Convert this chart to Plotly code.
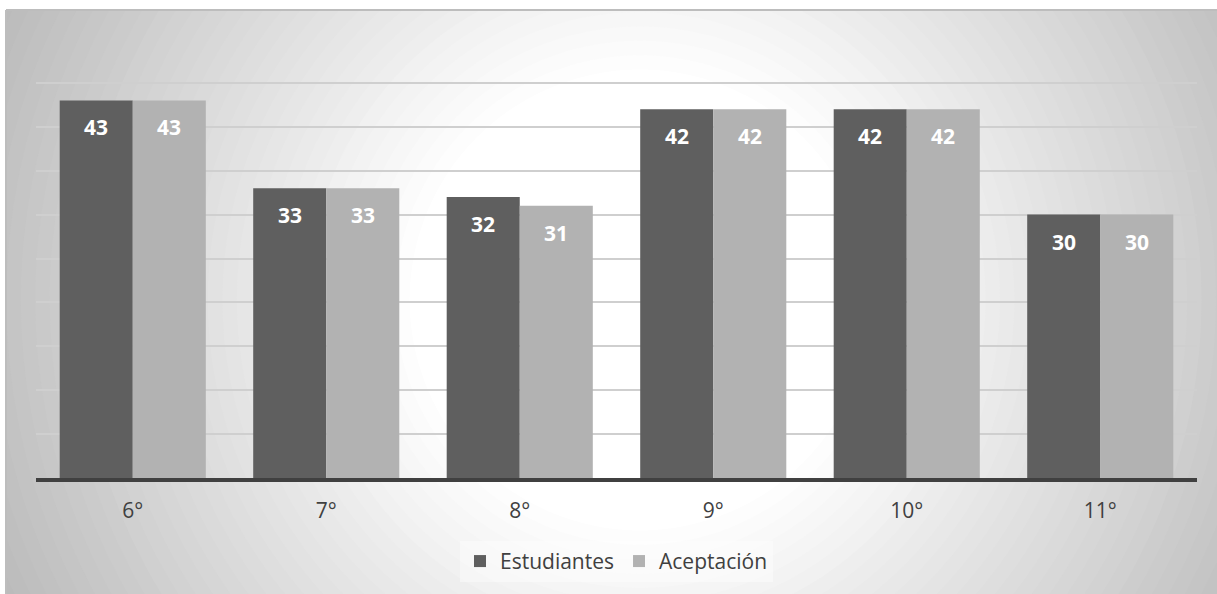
import plotly.graph_objects as go

# ---- data ----
grados = ["6°", "7°", "8°", "9°", "10°", "11°"]
estudiantes = [43, 33, 32, 42, 42, 30]
aceptacion = [43, 33, 31, 42, 42, 30]
serie_nombres = ["Estudiantes", "Aceptación"]

# ---- geometry / style ----
W, H = 1217, 594
L, R, T, B = 36, 1197, 39, 478
COL_DARK = "#5f5f5f"
COL_LIGHT = "#b2b2b2"
FONT = "Open Sans"
BARGAP = 0.245


def px_x(px):
    return (px - L) / (R - L)


def px_y(py):
    return (B - py) / (B - T)


fig = go.Figure()
for name, vals, col in zip(serie_nombres, [estudiantes, aceptacion], [COL_DARK, COL_LIGHT]):
    fig.add_trace(go.Bar(
        x=grados, y=vals, name=name,
        marker=dict(color=col, line=dict(width=0)),
        hoverinfo="x+y+name",
    ))

# data labels (white, bold, inside near top)
cat_w = (R - L) / len(grados)
bar_w = cat_w * (1 - BARGAP) / 2
annotations = []
for i, vals in enumerate([estudiantes, aceptacion]):
    for g, v in zip(grados, vals):
        annotations.append(dict(
            x=g, y=v, xref="x", yref="y", text=str(v), showarrow=False,
            xshift=(i - 0.5) * bar_w, yshift=-27, yanchor="middle",
            font=dict(family=FONT, size=21, color="white", weight="bold"),
        ))

# radial-gradient background (concentric circles): white core, grey rim
shapes = []
cx, cy = 640, 300
R_CORE, R_EDGE = 230, 670
RMAX = 720
N = 50
for k in range(N):
    r = RMAX * (1 - k / N)
    if r <= R_CORE:
        c = 255
    else:
        c = 255 - 63 * (r - R_CORE) / (R_EDGE - R_CORE)
    c = int(round(max(min(c, 255), 170)))
    shapes.append(dict(
        type="circle", xref="paper", yref="paper", layer="below",
        x0=px_x(cx - r), x1=px_x(cx + r), y0=px_y(cy + r), y1=px_y(cy - r),
        fillcolor=f"rgb({c},{c},{c})", line=dict(width=0),
    ))
    if c == 255:
        break
# white outside the chart frame
shapes.append(dict(type="rect", xref="paper", yref="paper", layer="below",
                   x0=px_x(-50), x1=px_x(6), y0=px_y(H + 50), y1=px_y(-50),
                   fillcolor="white", line=dict(width=0)))
shapes.append(dict(type="rect", xref="paper", yref="paper", layer="below",
                   x0=px_x(-50), x1=px_x(W + 50), y0=px_y(10), y1=px_y(-50),
                   fillcolor="white", line=dict(width=0)))
# frame border
shapes.append(dict(type="line", xref="paper", yref="paper", layer="below",
                   x0=px_x(6), x1=px_x(W + 5), y0=px_y(10), y1=px_y(10),
                   line=dict(color="#bdbdbd", width=2)))
shapes.append(dict(type="line", xref="paper", yref="paper", layer="below",
                   x0=px_x(6), x1=px_x(6), y0=px_y(10), y1=px_y(H + 5),
                   line=dict(color="#bdbdbd", width=2)))

fig.update_layout(
    width=W, height=H,
    margin=dict(l=L, r=W - R, t=T, b=H - B, pad=0),
    paper_bgcolor="white",
    plot_bgcolor="rgba(0,0,0,0)",
    barmode="group", bargap=BARGAP, bargroupgap=0,
    font=dict(family=FONT, color="#404040"),
    xaxis=dict(
        showline=True, linecolor="#404040", linewidth=4,
        ticks="outside", ticklen=11, tickcolor="rgba(0,0,0,0)",
        tickfont=dict(size=21, color="#404040", family=FONT),
        showgrid=False, zeroline=False,
    ),
    yaxis=dict(
        range=[0, 50], dtick=5, showticklabels=False, ticks="",
        showgrid=True, gridcolor="#cfcfcf", gridwidth=1.5,
        zeroline=False, showline=False,
    ),
    legend=dict(
        orientation="h", x=0.5, xanchor="center", y=-0.19, yanchor="middle",
        bgcolor="rgba(255,255,255,0.4)",
        font=dict(size=21, color="#404040", family=FONT),
        itemsizing="constant",
    ),
    annotations=annotations,
    shapes=shapes,
)

fig.write_html(
    "out.html",
    config={"displayModeBar": False},
    post_script="document.body.style.margin='0';document.body.style.overflow='hidden';",
)
